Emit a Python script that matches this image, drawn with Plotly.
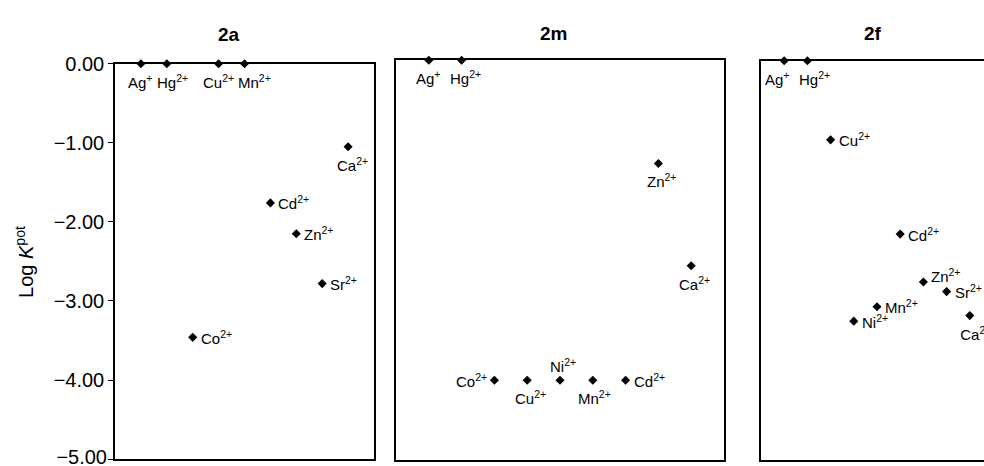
import plotly.graph_objects as go

# Selectivity coefficients (log K_pot) for three ionophores
ions_2a = ["Ag", "Hg", "Co", "Cu", "Mn", "Cd", "Zn", "Sr", "Ca"]
charge_2a = ["+", "2+", "2+", "2+", "2+", "2+", "2+", "2+", "2+"]
logk_2a = [0.00, 0.00, -3.46, 0.00, 0.00, -1.76, -2.15, -2.78, -1.05]

ions_2m = ["Ag", "Hg", "Co", "Cu", "Ni", "Mn", "Cd", "Zn", "Ca"]
charge_2m = ["+", "2+", "2+", "2+", "2+", "2+", "2+", "2+", "2+"]
logk_2m = [0.00, 0.00, -4.00, -4.00, -4.00, -4.00, -4.00, -1.29, -2.57]

ions_2f = ["Ag", "Hg", "Cu", "Ni", "Mn", "Cd", "Zn", "Sr", "Ca"]
charge_2f = ["+", "2+", "2+", "2+", "2+", "2+", "2+", "2+", "2+"]
logk_2f = [0.00, 0.00, -0.99, -3.26, -3.08, -2.17, -2.77, -2.89, -3.19]

panel_titles = ["2a", "2m", "2f"]
y_ticks = [0, -1, -2, -3, -4, -5]

# label placement around each marker, plus a small sideways nudge (px)
place_2a = ["below", "below", "right", "below", "below", "right", "right", "right", "below"]
nudge_2a = [0, 6, 0, 0, 10, 0, 0, 0, 4]
place_2m = ["below", "below", "left", "below", "above", "below", "right", "below", "below"]
nudge_2m = [0, 4, 0, 3, 3, 2, 0, 4, 3]
place_2f = ["below", "below", "right", "right", "right", "right", "upright", "right", "below"]
nudge_2f = [-7, 7, 0, 0, 0, 0, 0, 0, 6]

W, H = 984, 466
FONT = "Liberation Sans, Arial, Helvetica, sans-serif"
LABEL_SIZE = 15
TICK_SIZE = 20


def px_x(v):
    return v / W


def px_y(v):
    return (H - v) / H


def fmt_tick(v):
    return f"{v:.2f}".replace("-", "\u2212")


# plot areas in pixel boxes: (left, right, top, bottom)
boxes = [(115, 374, 54, 459), (396, 724, 50.5, 460), (761, 984, 51, 460)]
x_ranges = [[0, 10], [0, 10], [0, (984 - 761) / 23.2]]
title_pos = [(229, 24), (553, 23), (873, 23)]

panels = [(ions_2a, charge_2a, logk_2a, place_2a, nudge_2a),
          (ions_2m, charge_2m, logk_2m, place_2m, nudge_2m),
          (ions_2f, charge_2f, logk_2f, place_2f, nudge_2f)]

fig = go.Figure()
annotations = []

for i, ((ions, charges, vals, places, nudges), box) in enumerate(zip(panels, boxes)):
    n = i + 1
    xa = "x" if n == 1 else f"x{n}"
    ya = "y" if n == 1 else f"y{n}"
    l, r, t, b = box
    px_per_unit = (min(r, W) - l) / (x_ranges[i][1] - x_ranges[i][0])
    xs = list(range(1, len(ions) + 1))
    fig.add_trace(go.Scatter(
        x=xs, y=vals, mode="markers", xaxis=xa, yaxis=ya,
        marker=dict(symbol="diamond", size=7, color="black"),
        cliponaxis=False, showlegend=False, hoverinfo="skip",
    ))
    for x, y, ion, q, p, dx in zip(xs, vals, ions, charges, places, nudges):
        text = f"{ion}<sup>{q}</sup>"
        font = dict(family=FONT, size=LABEL_SIZE, color="black")
        est_w = (len(ion) * 0.62 + len(q) * 0.58 * 0.7) * LABEL_SIZE
        x_px = l + (x - x_ranges[i][0]) * px_per_unit
        if p == "below" and x_px + dx + est_w / 2 > W:
            # label runs off the page edge: draw it as clipped text in the panel;
            # an invisible spacer marker keeps the text clear of the diamond
            fig.add_trace(go.Scatter(
                x=[x + dx / px_per_unit], y=[y], mode="markers+text", text=[text],
                marker=dict(size=20, opacity=0),
                textposition="bottom center", textfont=font,
                xaxis=xa, yaxis=ya, cliponaxis=True,
                showlegend=False, hoverinfo="skip",
            ))
            continue
        a = dict(x=x, y=y, xref=xa, yref=ya, text=text, showarrow=False, font=font)
        if p == "below":
            a.update(xanchor="center", yanchor="top", yshift=-6, xshift=dx)
        elif p == "above":
            a.update(xanchor="center", yanchor="bottom", yshift=3, xshift=dx)
        elif p == "right":
            a.update(xanchor="left", yanchor="middle", xshift=6 + dx)
        elif p == "upright":
            a.update(xanchor="left", yanchor="middle", xshift=6 + dx, yshift=7)
        elif p == "left":
            a.update(xanchor="right", yanchor="middle", xshift=-5 + dx)
        annotations.append(a)

    xkey = "xaxis" if n == 1 else f"xaxis{n}"
    ykey = "yaxis" if n == 1 else f"yaxis{n}"
    fig.layout[xkey] = dict(
        domain=[px_x(l), min(px_x(r), 1)], range=x_ranges[i], anchor=ya,
        showline=True, mirror=True, linecolor="black", linewidth=1.5,
        showgrid=False, zeroline=False, showticklabels=False, ticks="",
    )
    fig.layout[ykey] = dict(
        domain=[px_y(b), px_y(t)], range=[-5, 0], anchor=xa,
        showline=True, mirror=(n != 3), linecolor="black", linewidth=1.5,
        showgrid=False, zeroline=False,
        showticklabels=(n == 1), ticks="outside" if n == 1 else "",
        ticklen=5, tickwidth=1, tickcolor="black",
        tickvals=y_ticks, ticktext=[fmt_tick(v) for v in y_ticks],
        tickfont=dict(family=FONT, size=TICK_SIZE, color="black"),
    )
    tx, ty = title_pos[i]
    annotations.append(dict(
        x=px_x(tx), y=px_y(ty), xref="paper", yref="paper",
        text=f"<b>{panel_titles[i]}</b>", showarrow=False,
        xanchor="center", yanchor="middle",
        font=dict(family=FONT, size=19, color="black"),
    ))

# The lowest tick label sits on the page edge; draw it in a clipped strip
# (same vertical scale as the first panel) so it is cut off by the page.
l1, r1, t1, b1 = boxes[0]
unit_px = (b1 - t1) / 5
fig.add_trace(go.Scatter(
    x=[l1 - 8], y=[y_ticks[-1]], mode="text", text=[fmt_tick(y_ticks[-1])],
    textposition="middle left",
    textfont=dict(family=FONT, size=TICK_SIZE, color="black"),
    xaxis="x4", yaxis="y4", cliponaxis=True, showlegend=False, hoverinfo="skip",
))
fig.layout["xaxis4"] = dict(domain=[0, px_x(l1)], range=[0, l1], anchor="y4", visible=False)
fig.layout["yaxis4"] = dict(domain=[0, px_y(t1)], range=[-(H - t1) / unit_px, 0],
                            anchor="x4", visible=False)

annotations.append(dict(
    x=px_x(25), y=px_y(257), xref="paper", yref="paper",
    text="Log <i>K</i><sup>pot</sup>", textangle=-90, showarrow=False,
    xanchor="center", yanchor="middle",
    font=dict(family=FONT, size=20, color="black"),
))

fig.update_layout(
    width=W, height=H, margin=dict(l=0, r=0, t=0, b=0),
    paper_bgcolor="white", plot_bgcolor="white",
    annotations=annotations,
)

fig.write_html("out.html")
